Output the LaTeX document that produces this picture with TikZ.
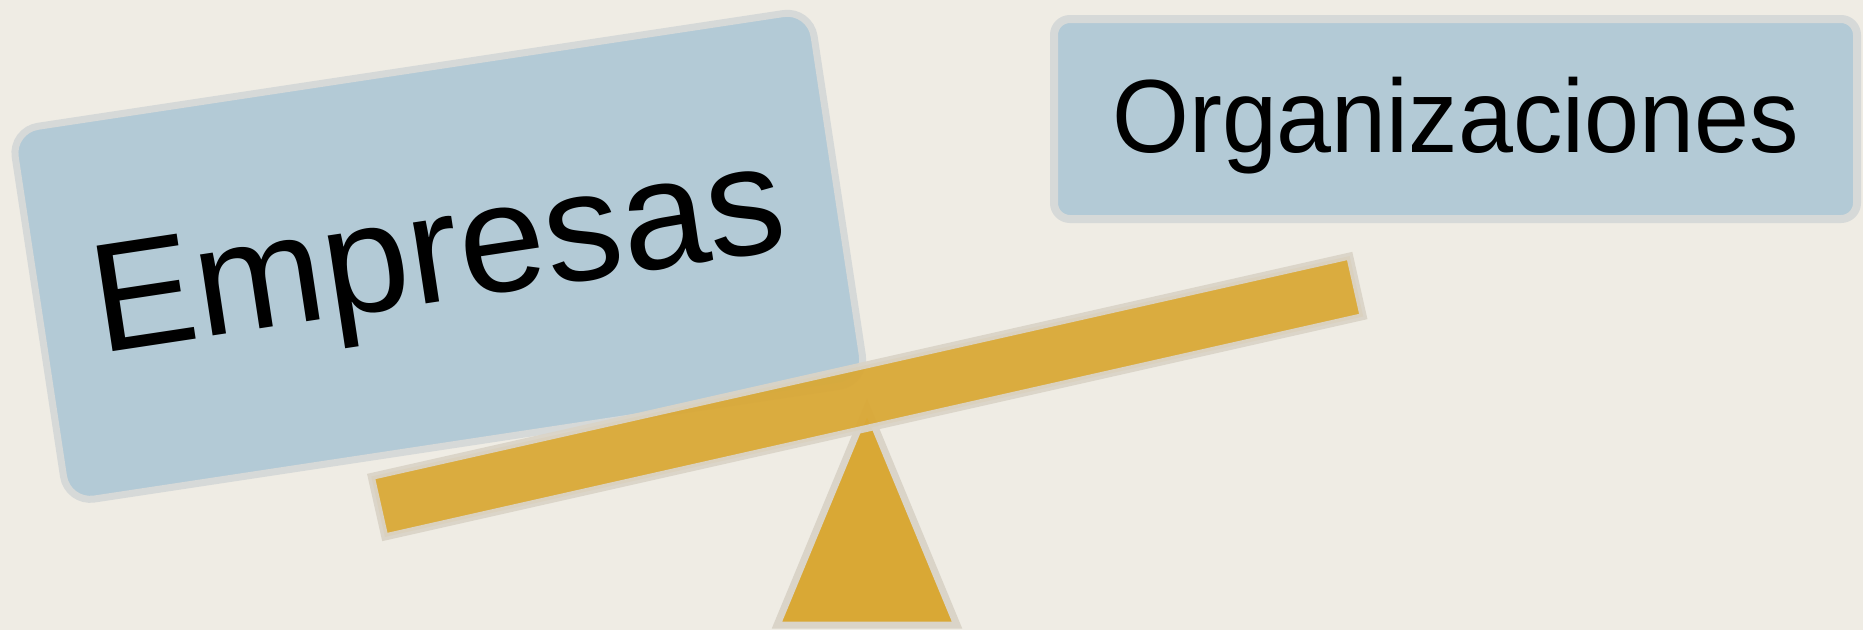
\documentclass[tikz,border=0pt]{standalone}
\usepackage{fontspec}
\setmainfont{Liberation Sans}
\newfontfamily\orgfont{Liberation Sans}[FakeStretch=0.95]
\definecolor{bg}{HTML}{EFECE4}
\definecolor{boxfill}{HTML}{B3CAD6}
\definecolor{boxline}{HTML}{D6D9D8}
\definecolor{gold}{HTML}{D9A835}
\definecolor{goldline}{HTML}{DAD4C8}
\begin{document}
\begin{tikzpicture}[x=1pt,y=-1pt,
  card/.style={draw=boxline, fill=boxfill, line width=7pt, rounded corners=27pt, inner sep=0pt, text=black},
  wood/.style={draw=goldline, fill=gold, line width=7pt, line join=miter}]
\fill[bg] (0,0) rectangle (1863,630);
\useasboundingbox (0,0) rectangle (1863,630);
\node[card, minimum width=808pt, minimum height=377pt, rotate=8.6,
      font=\fontsize{155}{160}\selectfont, text depth=16pt] (emp) at (438.8,256.3) {Empresas};
\node[card, rounded corners=16pt, line width=8pt, minimum width=803pt, minimum height=200pt,
      font=\orgfont\fontsize{104}{110}\selectfont, text depth=8pt] (org) at (1455.5,119) {Organizaciones};
\coordinate (apex) at (867,408);
\coordinate (baseR) at (957,625);
\coordinate (baseL) at (777,625);
\draw[wood] (apex) -- (baseR) -- (baseL) -- cycle;
\node[wood, opacity=0.94, minimum width=1003pt, minimum height=62pt, inner sep=0pt, rotate=12.7] (beam) at (867.25,396.5) {};
\end{tikzpicture}
\end{document}
